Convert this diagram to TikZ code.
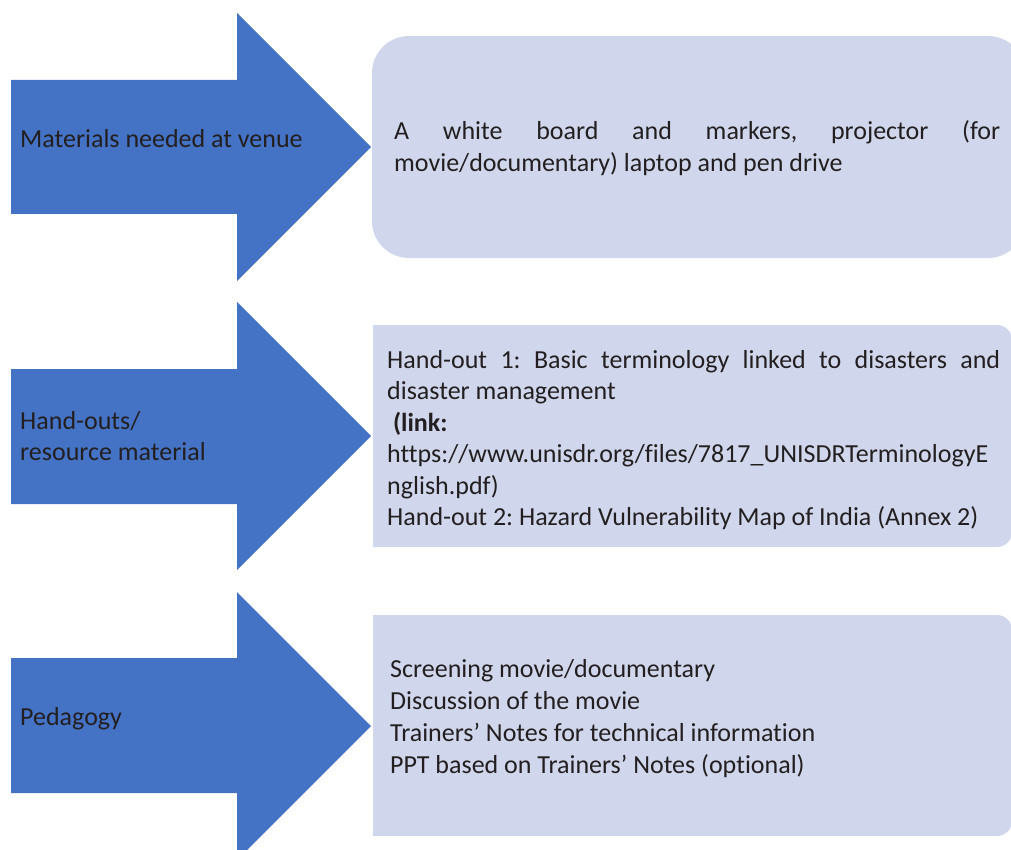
\documentclass[tikz,border=0pt]{standalone}
\usepackage{fontspec}
\setmainfont{Carlito}[Ligatures={NoCommon}]
\frenchspacing
\begin{document}
\begin{tikzpicture}[x=1pt,y=-1pt,
  arrowfill/.style={fill=arrowblue},
  panel/.style={fill=panelblue},
  txt/.style={anchor=base west,inner sep=0pt,text=ink,font=\fontsize{26}{31}\selectfont},
]
\definecolor{arrowblue}{HTML}{4472C4}
\definecolor{panelblue}{HTML}{D0D6EB}
\definecolor{ink}{HTML}{231F20}
\useasboundingbox (0,0) rectangle (1011,850);
\clip (0,0) rectangle (1011,850);

% block arrows
\path[arrowfill] (11,80) -- (237,80) -- (237,13) -- (371,147) -- (237,281) -- (237,214) -- (11,214) -- cycle;
\path[arrowfill] (11,369) -- (237,369) -- (237,302) -- (371,436) -- (237,570) -- (237,504) -- (11,504) -- cycle;
\path[arrowfill] (11,658) -- (237,658) -- (237,592) -- (371,726) -- (237,860) -- (237,793) -- (11,793) -- cycle;

% content panels (y axis points down, so arc angles are mirrored)
\path[panel,rounded corners=37pt] (372,36) rectangle (1025,258);
\path[panel] (373,325) -- (997,325) arc[start angle=-90,end angle=0,radius=15]
  -- (1012,532) arc[start angle=0,end angle=90,radius=15] -- (373,547) -- cycle;
\path[panel] (373,615) -- (997,615) arc[start angle=-90,end angle=0,radius=15]
  -- (1012,821) arc[start angle=0,end angle=90,radius=15] -- (373,836) -- cycle;

% arrow labels
\node[txt] (venue) at (20,148) {Materials needed at venue};
\node[txt] (hand1) at (20,429) {Hand-outs/};
\node[txt] (hand2) at (20,460) {resource material};
\node[txt] (ped) at (20,725) {Pedagogy};

% panel 1
\node[txt] (m1) at (394,140) {\makebox[606pt][s]{A white board and markers, projector (for}};
\node[txt] (m2) at (394,172) {movie/documentary) laptop and pen drive};

% panel 2
\node[txt] (h1) at (387,368) {\makebox[613pt][s]{Hand-out 1: Basic terminology linked to disasters and}};
\node[txt] (h2) at (387,399) {disaster management};
\node[txt] (h3) at (387,431) {\ \textbf{(link:}};
\node[txt] (h4) at (387,462) {https://www.unisdr.org/files/7817\_UNISDRTerminologyE};
\node[txt] (h5) at (387,494) {nglish.pdf)};
\node[txt] (h6) at (387,525) {Hand-out 2: Hazard Vulnerability Map of India (Annex 2)};

% panel 3
\node[txt] (p1) at (390,677) {Screening movie/documentary};
\node[txt] (p2) at (390,709) {Discussion of the movie};
\node[txt] (p3) at (390,741) {Trainers’ Notes for technical information};
\node[txt] (p4) at (390,773) {PPT based on Trainers’ Notes (optional)};
\end{tikzpicture}
\end{document}
